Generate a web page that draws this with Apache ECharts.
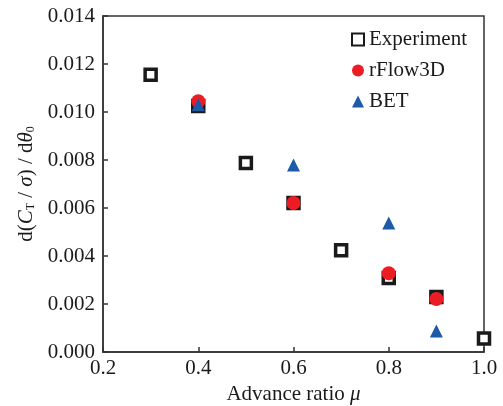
<!DOCTYPE html>
<html>
<head>
<meta charset="utf-8">
<script src="https://cdn.jsdelivr.net/npm/echarts@6/dist/echarts.min.js"></script>
<style>
  html, body { margin: 0; padding: 0; background: #fff; }
  #chart { width: 503px; height: 406px; }
</style>
</head>
<body>
<div id="chart"></div>
<script>
// values
const experimentX = [0.3, 0.4, 0.5, 0.6, 0.7, 0.8, 0.9, 1.0]
const experimentY = [0.01155, 0.01025, 0.00787, 0.00621, 0.00424, 0.00308, 0.00229, 0.00056]
const rflowX = [0.4, 0.6, 0.8, 0.9]
const rflowY = [0.01045, 0.00621, 0.00328, 0.00221]
const betX = [0.4, 0.6, 0.8, 0.9]
const betY = [0.0103, 0.00779, 0.00537, 0.00088]

const FONT = '"Liberation Serif", "DejaVu Serif", serif'
const INK = '#1a1a1a'
const FS = 21

const pairs = (xs, ys) => xs.map((x, i) => [x, ys[i]])

const chart = echarts.init(document.getElementById('chart'))

chart.setOption({
  animation: false,
  grid: {
    left: 103,
    right: 19,
    top: 16,
    bottom: 54,
    outerBoundsMode: 'none',
    containLabel: false,
    show: true,
    borderColor: '#333',
    borderWidth: 1.5,
    backgroundColor: 'transparent'
  },
  legend: {
    orient: 'vertical',
    left: 351,
    top: 29,
    padding: 0,
    itemWidth: 12,
    itemHeight: 12,
    itemGap: 10,
    textStyle: { fontFamily: FONT, fontSize: FS, color: INK },
    data: ['Experiment', 'rFlow3D', 'BET']
  },
  xAxis: {
    type: 'value',
    min: 0.2,
    max: 1.0,
    interval: 0.2,
    name: '{n|Advance ratio }{i|μ}',
    nameLocation: 'middle',
    nameGap: 29,
    nameTextStyle: {
      rich: {
        n: { fontFamily: FONT, fontSize: FS, color: INK },
        i: { fontFamily: FONT, fontSize: FS, color: INK, fontStyle: 'italic' }
      }
    },
    axisLine: { lineStyle: { color: '#333', width: 1.5 } },
    axisTick: { inside: true, length: 5, lineStyle: { color: '#333', width: 1.5 } },
    axisLabel: {
      fontFamily: FONT, fontSize: FS, color: INK, margin: 6,
      formatter: v => v.toFixed(1)
    },
    splitLine: { show: false }
  },
  yAxis: {
    type: 'value',
    min: 0,
    max: 0.014,
    interval: 0.002,
    name: '{n|d(}{i|C}{s|T}{n| / }{i|σ}{n|) / d}{i|θ}{s|0}',
    nameLocation: 'middle',
    nameRotate: 90,
    nameGap: 66,
    nameTextStyle: {
      rich: {
        n: { fontFamily: FONT, fontSize: FS, color: INK },
        i: { fontFamily: FONT, fontSize: FS, color: INK, fontStyle: 'italic' },
        s: { fontFamily: FONT, fontSize: 12, color: INK, verticalAlign: 'bottom', padding: [9, 0, 0, 0] }
      }
    },
    axisLine: { lineStyle: { color: '#333', width: 1.5 } },
    axisTick: { inside: true, length: 5, lineStyle: { color: '#333', width: 1.5 } },
    axisLabel: {
      fontFamily: FONT, fontSize: FS, color: INK, margin: 8,
      formatter: v => v.toFixed(3)
    },
    splitLine: { show: false }
  },
  series: [
    {
      name: 'Experiment',
      type: 'scatter',
      symbol: 'rect',
      symbolSize: 11,
      itemStyle: { color: '#fff', borderColor: '#1a1a1a', borderWidth: 3.5, opacity: 1 },
      data: pairs(experimentX, experimentY),
      z: 2
    },
    {
      name: 'rFlow3D',
      type: 'scatter',
      symbol: 'circle',
      symbolSize: 14,
      itemStyle: { color: '#ec1c24', opacity: 1 },
      data: pairs(rflowX, rflowY),
      z: 3
    },
    {
      name: 'BET',
      type: 'scatter',
      symbol: 'triangle',
      symbolSize: 13,
      itemStyle: { color: '#1d5aa8', opacity: 1 },
      data: pairs(betX, betY),
      z: 4
    }
  ]
})
</script>
</body>
</html>
